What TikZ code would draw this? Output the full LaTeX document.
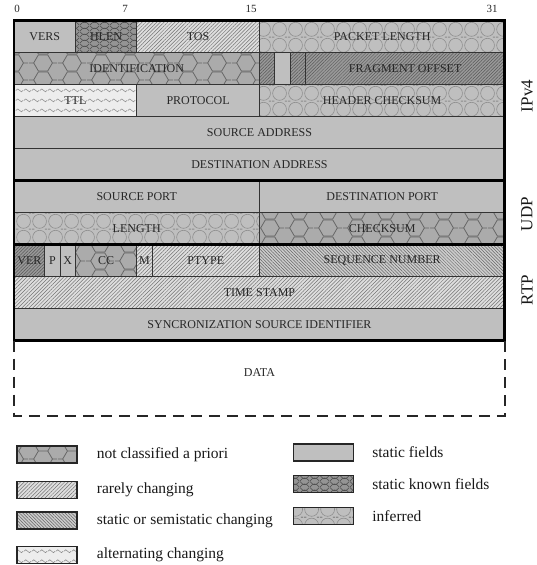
\documentclass[tikz,border=0pt]{standalone}
\usepackage{fontspec}
\setmainfont{Liberation Serif}
\usetikzlibrary{patterns, patterns.meta, positioning}

% honeycomb for fields not classified a priori
\tikzdeclarepattern{
  name=hexcells,
  type=uncolored,
  bounding box={(0pt,0pt) and (28.5pt,16.45pt)},
  tile size={(28.5pt,16.45pt)},
  code={
    \draw[line width=0.8pt] (0pt,8.23pt) -- (4.75pt,8.23pt) -- (9.5pt,0pt) -- (19pt,0pt) -- (23.75pt,8.23pt) -- (28.5pt,8.23pt);
    \draw[line width=0.8pt] (4.75pt,8.23pt) -- (9.5pt,16.45pt) -- (19pt,16.45pt) -- (23.75pt,8.23pt);
  }
}
% circles for inferred fields
\tikzdeclarepattern{
  name=circlecells,
  type=uncolored,
  bounding box={(0pt,0pt) and (16pt,16pt)},
  tile size={(16pt,16pt)},
  code={
    \draw[line width=0.6pt] (8pt,8pt) circle (7.3pt);
    \draw[line width=0.6pt] (0pt,0pt) -- (2.5pt,0pt) (13.5pt,0pt) -- (16pt,0pt);
    \draw[line width=0.6pt] (0pt,16pt) -- (2.5pt,16pt) (13.5pt,16pt) -- (16pt,16pt);
  }
}
% net for static known fields
\tikzdeclarepattern{
  name=netcells,
  type=uncolored,
  bounding box={(0pt,0pt) and (10pt,6pt)},
  tile size={(10pt,6pt)},
  code={
    \draw[line width=0.6pt] (0pt,0pt) .. controls (3.3pt,4.5pt) and (6.7pt,4.5pt) .. (10pt,0pt);
    \draw[line width=0.6pt] (0pt,6pt) .. controls (3.3pt,1.5pt) and (6.7pt,1.5pt) .. (10pt,6pt);
  }
}
% waves for alternating fields
\tikzdeclarepattern{
  name=wavecells,
  type=uncolored,
  bounding box={(0pt,0pt) and (8pt,10pt)},
  tile size={(8pt,10pt)},
  code={
    \draw[line width=0.6pt] (0pt,5pt) .. controls (1.3pt,7pt) and (2.7pt,7pt) .. (4pt,5pt) .. controls (5.3pt,3pt) and (6.7pt,3pt) .. (8pt,5pt);
  }
}

\tikzset{
	fieldnode/.style={
			shape=rectangle,
			draw=black!80,
			line width=1pt,
			minimum height=32pt,
			inner sep=0pt,
			outer sep=0pt,
			text=black!85,
			font=\fontsize{12}{14}\selectfont
		},
	bits/.style={minimum width=#1*15.34pt},
	staticnode/.style={fill=black!25},
	knownnode/.style={preaction={fill=black!42}, pattern=netcells, pattern color=black!70},
	rarenode/.style={preaction={fill=black!13}, pattern={Lines[angle=45,distance=2.6pt,line width=0.5pt]}, pattern color=black!55},
	semistaticnode/.style={preaction={fill=black!20}, pattern={Lines[angle=-45,distance=2.3pt,line width=0.5pt]}, pattern color=black!60},
	darknode/.style={preaction={fill=black!40}, pattern={Lines[angle=45,distance=2.3pt,line width=0.5pt]}, pattern color=black!65},
	alternatingnode/.style={preaction={fill=black!7}, pattern=wavecells, pattern color=black!45},
	inferrednode/.style={preaction={fill=black!25}, pattern=circlecells, pattern color=black!45},
	unclassnode/.style={preaction={fill=black!33}, pattern=hexcells, pattern color=black!60},
	frame/.style={line width=2.8pt, black},
	databox/.style={line width=2.2pt, black!85, dash pattern=on 11pt off 7pt},
	bitlabel/.style={font=\fontsize{11}{12}\selectfont, text=black!85, inner sep=0pt},
	layerlabel/.style={font=\fontsize{17}{18}\selectfont, text=black!90, rotate=90, inner sep=0pt},
	legendbox/.style={draw=black!85, line width=1.4pt, minimum width=60pt, minimum height=17pt, inner sep=0pt},
	legendtext/.style={font=\fontsize{15.5}{17}\selectfont, text=black!90, inner sep=0pt, anchor=west}
}

\begin{document}
\begin{tikzpicture}[x=1pt, y=-1pt]
  \useasboundingbox (0,0) rectangle (537,565);

  % bit numbers
  \node[bitlabel] (b0) at (17,9) {0};
  \node[bitlabel] (b7) at (125,9) {7};
  \node[bitlabel] (b15) at (251,9) {15};
  \node[bitlabel] (b31) at (492,9) {31};

  \begin{scope}[shift={(14pt,-20.7pt)}, x=15.34pt, y=-32pt]
    % IPv4
    \node[fieldnode, staticnode, bits=4] (vers) at (2,0.5) {VERS};
    \node[fieldnode, knownnode, bits=4] (hlen) at (6,0.5) {HLEN};
    \node[fieldnode, rarenode, bits=8] (tos) at (12,0.5) {TOS};
    \node[fieldnode, inferrednode, bits=16] (plen) at (24,0.5) {PACKET LENGTH};

    \node[fieldnode, unclassnode, bits=16] (ident) at (8,1.5) {IDENTIFICATION};
    \node[fieldnode, darknode, bits=1] (flag1) at (16.5,1.5) {};
    \node[fieldnode, staticnode, bits=1] (flag2) at (17.5,1.5) {};
    \node[fieldnode, darknode, bits=1] (flag3) at (18.5,1.5) {};
    \node[fieldnode, darknode, bits=13] (fragoff) at (25.5,1.5) {FRAGMENT OFFSET};

    \node[fieldnode, alternatingnode, bits=8] (ttl) at (4,2.5) {TTL};
    \node[fieldnode, staticnode, bits=8] (proto) at (12,2.5) {PROTOCOL};
    \node[fieldnode, inferrednode, bits=16] (hcheck) at (24,2.5) {HEADER CHECKSUM};

    \node[fieldnode, staticnode, bits=32] (srcaddr) at (16,3.5) {SOURCE ADDRESS};
    \node[fieldnode, staticnode, bits=32] (dstaddr) at (16,4.5) {DESTINATION ADDRESS};

    % UDP
    \node[fieldnode, staticnode, bits=16] (srcport) at (8,5.5) {SOURCE PORT};
    \node[fieldnode, staticnode, bits=16] (dstport) at (24,5.5) {DESTINATION PORT};
    \node[fieldnode, inferrednode, bits=16] (ulen) at (8,6.5) {LENGTH};
    \node[fieldnode, unclassnode, bits=16] (ucheck) at (24,6.5) {CHECKSUM};

    % RTP
    \node[fieldnode, darknode, bits=2] (ver) at (1,7.5) {VER};
    \node[fieldnode, staticnode, bits=1] (pad) at (2.5,7.5) {P};
    \node[fieldnode, staticnode, bits=1] (ext) at (3.5,7.5) {X};
    \node[fieldnode, unclassnode, bits=4] (cc) at (6,7.5) {CC};
    \node[fieldnode, rarenode, bits=1] (mark) at (8.5,7.5) {M};
    \node[fieldnode, rarenode, bits=7] (ptype) at (12.5,7.5) {PTYPE};
    \node[fieldnode, semistaticnode, bits=16] (seqnum) at (24,7.5) {SEQUENCE NUMBER};
    \node[fieldnode, rarenode, bits=32] (tstamp) at (16,8.5) {TIME STAMP};
    \node[fieldnode, staticnode, bits=32] (ssrc) at (16,9.5) {SYNCRONIZATION SOURCE IDENTIFIER};

    % group frames
    \draw[frame] (0,0) rectangle (32,10);
    \draw[frame] (0,5) -- (32,5);
    \draw[frame] (0,7) -- (32,7);

    % payload
    \draw[databox] (0,10) -- (0,12.35) -- (32,12.35) -- (32,10);
    \node[fieldnode, draw=none] (data) at (16,10.98) {DATA};
  \end{scope}

  % layer names
  \node[layerlabel] (ipv4) at (527,96) {IPv4};
  \node[layerlabel] (udp) at (527,214) {UDP};
  \node[layerlabel] (rtp) at (527,290) {RTP};

  % legend
  \node[legendbox, unclassnode] (lg1) at (47,454.5) {};
  \node[legendbox, rarenode] (lg2) at (47,490) {};
  \node[legendbox, semistaticnode] (lg3) at (47,520.5) {};
  \node[legendbox, alternatingnode] (lg4) at (47,555) {};
  \node[legendbox, staticnode] (lg5) at (323.5,452.5) {};
  \node[legendbox, knownnode] (lg6) at (323.5,484) {};
  \node[legendbox, inferrednode] (lg7) at (323.5,516) {};

  \node[legendtext, right=19pt of lg1] (lt1) {not classified a priori};
  \node[legendtext, right=19pt of lg2] (lt2) {rarely changing};
  \node[legendtext, right=19pt of lg3] (lt3) {static or semistatic changing};
  \node[legendtext, right=19pt of lg4] (lt4) {alternating changing};
  \node[legendtext, right=18pt of lg5] (lt5) {static fields};
  \node[legendtext, right=18pt of lg6] (lt6) {static known fields};
  \node[legendtext, right=18pt of lg7] (lt7) {inferred};

\end{tikzpicture}
\end{document}
